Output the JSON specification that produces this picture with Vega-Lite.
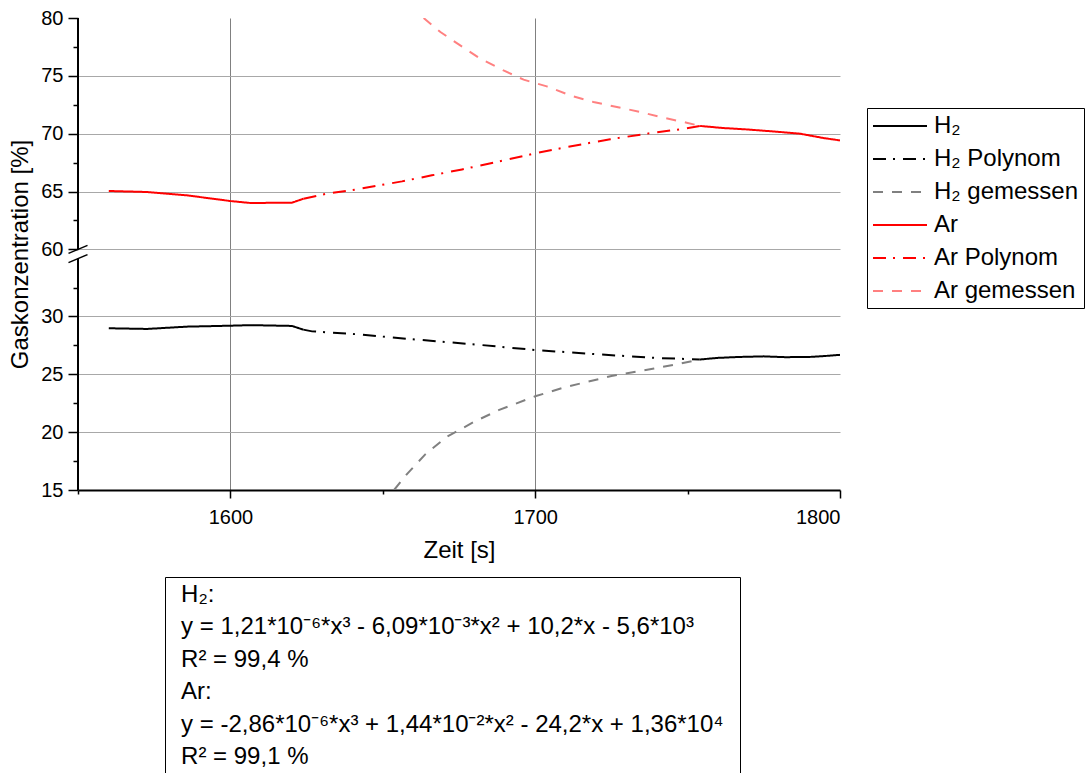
{
  "$schema": "https://vega.github.io/schema/vega-lite/v6.json",
  "padding": {"left": 8, "top": 8, "right": 0, "bottom": 0},
  "config": {
    "font": "Liberation Sans",
    "view": {"stroke": null},
    "axis": {"labelFont": "Liberation Sans", "titleFont": "Liberation Sans", "labelFontSize": 20, "titleFontSize": 24, "labelColor": "#000", "titleColor": "#000", "titleFontWeight": "normal", "domainColor": "#000", "tickColor": "#000"},
    "text": {"font": "Liberation Sans"}
  },
  "spacing": 14,
  "resolve": {"scale": {"color": "independent", "strokeDash": "independent"}},
  "vconcat": [
    {
      "width": 762,
      "height": 472,
      "layer": [
        {
          "data": {"values": [
            {"s": "H₂", "seg": "a", "t": 1560.1, "c": 28.98},
            {"s": "H₂", "seg": "a", "t": 1572.7, "c": 28.92},
            {"s": "H₂", "seg": "a", "t": 1585.8, "c": 29.12},
            {"s": "H₂", "seg": "a", "t": 1600, "c": 29.2},
            {"s": "H₂", "seg": "a", "t": 1606.6, "c": 29.25},
            {"s": "H₂", "seg": "a", "t": 1620.2, "c": 29.18},
            {"s": "H₂", "seg": "a", "t": 1623.9, "c": 28.86},
            {"s": "H₂", "seg": "b", "t": 1754, "c": 26.28},
            {"s": "H₂", "seg": "b", "t": 1760, "c": 26.42},
            {"s": "H₂", "seg": "b", "t": 1767, "c": 26.5},
            {"s": "H₂", "seg": "b", "t": 1775, "c": 26.55},
            {"s": "H₂", "seg": "b", "t": 1782, "c": 26.48},
            {"s": "H₂", "seg": "b", "t": 1790, "c": 26.5},
            {"s": "H₂", "seg": "b", "t": 1795, "c": 26.58},
            {"s": "H₂", "seg": "b", "t": 1800, "c": 26.68},
            {"s": "H₂ Polynom", "seg": "a", "t": 1623.9, "c": 28.86},
            {"s": "H₂ Polynom", "seg": "a", "t": 1626.8, "c": 28.71},
            {"s": "H₂ Polynom", "seg": "a", "t": 1639.7, "c": 28.5},
            {"s": "H₂ Polynom", "seg": "a", "t": 1659.6, "c": 28.03},
            {"s": "H₂ Polynom", "seg": "a", "t": 1679.5, "c": 27.6},
            {"s": "H₂ Polynom", "seg": "a", "t": 1700, "c": 27.1},
            {"s": "H₂ Polynom", "seg": "a", "t": 1719.3, "c": 26.75},
            {"s": "H₂ Polynom", "seg": "a", "t": 1739.2, "c": 26.42},
            {"s": "H₂ Polynom", "seg": "a", "t": 1754, "c": 26.28},
            {"s": "H₂ gemessen", "seg": "a", "t": 1653.7, "c": 15.0},
            {"s": "H₂ gemessen", "seg": "a", "t": 1658, "c": 16.4},
            {"s": "H₂ gemessen", "seg": "a", "t": 1664, "c": 18.1},
            {"s": "H₂ gemessen", "seg": "a", "t": 1671, "c": 19.6},
            {"s": "H₂ gemessen", "seg": "a", "t": 1680, "c": 20.9},
            {"s": "H₂ gemessen", "seg": "a", "t": 1688, "c": 21.9},
            {"s": "H₂ gemessen", "seg": "a", "t": 1700, "c": 23.1},
            {"s": "H₂ gemessen", "seg": "a", "t": 1710, "c": 23.9},
            {"s": "H₂ gemessen", "seg": "a", "t": 1725, "c": 24.85},
            {"s": "H₂ gemessen", "seg": "a", "t": 1739, "c": 25.5},
            {"s": "H₂ gemessen", "seg": "a", "t": 1748, "c": 25.95},
            {"s": "H₂ gemessen", "seg": "a", "t": 1754, "c": 26.28},
            {"s": "Ar", "seg": "a", "t": 1560.1, "c": 65.05},
            {"s": "Ar", "seg": "a", "t": 1572.7, "c": 64.96},
            {"s": "Ar", "seg": "a", "t": 1585.8, "c": 64.67},
            {"s": "Ar", "seg": "a", "t": 1600, "c": 64.18},
            {"s": "Ar", "seg": "a", "t": 1606.6, "c": 64.01},
            {"s": "Ar", "seg": "a", "t": 1620.2, "c": 64.04},
            {"s": "Ar", "seg": "a", "t": 1624, "c": 64.38},
            {"s": "Ar", "seg": "b", "t": 1754.1, "c": 70.67},
            {"s": "Ar", "seg": "b", "t": 1761.7, "c": 70.49},
            {"s": "Ar", "seg": "b", "t": 1769.4, "c": 70.37},
            {"s": "Ar", "seg": "b", "t": 1780.3, "c": 70.15},
            {"s": "Ar", "seg": "b", "t": 1786.9, "c": 70.0},
            {"s": "Ar", "seg": "b", "t": 1794.5, "c": 69.63},
            {"s": "Ar", "seg": "b", "t": 1800, "c": 69.42},
            {"s": "Ar Polynom", "seg": "a", "t": 1624, "c": 64.38},
            {"s": "Ar Polynom", "seg": "a", "t": 1631.7, "c": 64.82},
            {"s": "Ar Polynom", "seg": "a", "t": 1641.5, "c": 65.19},
            {"s": "Ar Polynom", "seg": "a", "t": 1656.3, "c": 65.88},
            {"s": "Ar Polynom", "seg": "a", "t": 1666.1, "c": 66.4},
            {"s": "Ar Polynom", "seg": "a", "t": 1676, "c": 66.91},
            {"s": "Ar Polynom", "seg": "a", "t": 1688, "c": 67.6},
            {"s": "Ar Polynom", "seg": "a", "t": 1700, "c": 68.3},
            {"s": "Ar Polynom", "seg": "a", "t": 1710.4, "c": 68.85},
            {"s": "Ar Polynom", "seg": "a", "t": 1724.6, "c": 69.52},
            {"s": "Ar Polynom", "seg": "a", "t": 1736.6, "c": 70.0},
            {"s": "Ar Polynom", "seg": "a", "t": 1747.5, "c": 70.38},
            {"s": "Ar Polynom", "seg": "a", "t": 1754.1, "c": 70.67},
            {"s": "Ar gemessen", "seg": "a", "t": 1663.4, "c": 80.0},
            {"s": "Ar gemessen", "seg": "a", "t": 1668.9, "c": 78.79},
            {"s": "Ar gemessen", "seg": "a", "t": 1675.4, "c": 77.63},
            {"s": "Ar gemessen", "seg": "a", "t": 1682, "c": 76.48},
            {"s": "Ar gemessen", "seg": "a", "t": 1689.6, "c": 75.47},
            {"s": "Ar gemessen", "seg": "a", "t": 1696.2, "c": 74.67},
            {"s": "Ar gemessen", "seg": "a", "t": 1703.8, "c": 74.09},
            {"s": "Ar gemessen", "seg": "a", "t": 1711.5, "c": 73.31},
            {"s": "Ar gemessen", "seg": "a", "t": 1719.1, "c": 72.74},
            {"s": "Ar gemessen", "seg": "a", "t": 1726.8, "c": 72.31},
            {"s": "Ar gemessen", "seg": "a", "t": 1734.4, "c": 71.88},
            {"s": "Ar gemessen", "seg": "a", "t": 1742.1, "c": 71.38},
            {"s": "Ar gemessen", "seg": "a", "t": 1749.7, "c": 70.95},
            {"s": "Ar gemessen", "seg": "a", "t": 1754.1, "c": 70.67}
          ]},
          "mark": {"type": "line", "strokeWidth": 2, "clip": true},
          "encoding": {
            "x": {"field": "t", "type": "quantitative",
              "scale": {"domain": [1550, 1800], "nice": false, "zero": false},
              "axis": {"orient": "bottom", "values": [1600, 1700, 1800], "format": "d", "title": "Zeit [s]", "tickSize": 8, "tickWidth": 1.5, "domainWidth": 2, "labelPadding": 9, "titlePadding": 11, "grid": true, "gridColor": "#808080", "gridWidth": 1, "gridOpacity": {"condition": {"test": "datum.value == 1800", "value": 0}, "value": 1}}},
            "y": {"field": "c", "type": "quantitative",
              "scale": {"domain": [15, 35, 60, 80], "range": [472, 240.6, 231.4, 0], "nice": false, "zero": false},
              "axis": {"orient": "left", "values": [15, 20, 25, 30, 60, 65, 70, 75, 80], "format": "d", "title": "Gaskonzentration [%]", "domain": false, "tickSize": 10, "tickWidth": 1.5, "labelPadding": 5, "titlePadding": 8, "grid": true, "gridColor": "#a8a8a8", "gridWidth": 1, "gridOpacity": {"condition": {"test": "datum.value == 80 || datum.value == 15", "value": 0}, "value": 1}}},
            "color": {"field": "s", "type": "nominal",
              "scale": {"domain": ["H₂", "H₂ Polynom", "H₂ gemessen", "Ar", "Ar Polynom", "Ar gemessen"], "range": ["#000000", "#000000", "#808080", "#ff0000", "#ff0000", "#ff8080"]},
              "legend": {"orient": "none", "legendX": 789, "legendY": 90, "title": null, "labelFontSize": 24, "labelFont": "Liberation Sans", "labelColor": "#000", "symbolType": "M-1,0L3.5,0", "symbolSize": 576, "symbolStrokeWidth": 2, "labelOffset": 36, "rowPadding": 8, "padding": 5, "strokeColor": "#000"}},
            "strokeDash": {"field": "s", "type": "nominal",
              "scale": {"domain": ["H₂", "H₂ Polynom", "H₂ gemessen", "Ar", "Ar Polynom", "Ar gemessen"], "range": [[1, 0], [13, 7, 2, 8], [10, 9], [1, 0], [13, 7, 2, 8], [10, 9]]},
              "legend": {"orient": "none", "legendX": 789, "legendY": 90, "title": null, "labelFontSize": 24, "labelFont": "Liberation Sans", "labelColor": "#000", "symbolType": "M-1,0L3.5,0", "symbolSize": 576, "symbolStrokeWidth": 2, "labelOffset": 36, "rowPadding": 8, "padding": 5, "strokeColor": "#000"}},
            "detail": {"field": "seg"}
          }
        },
        {
          "data": {"values": [{"b": 35}, {"b": 60}]},
          "mark": {"type": "point", "shape": "M-1,0.42L1,-0.42", "size": 361, "filled": false, "stroke": "#000", "strokeWidth": 1.5, "opacity": 1, "clip": false},
          "encoding": {
            "x": {"datum": 1550, "type": "quantitative",
              "axis": {"orient": "bottom", "values": [1550, 1650, 1750], "labels": false, "title": null, "tickSize": 4, "tickWidth": 1.5, "domain": false, "grid": false}},
            "y": {"field": "b", "type": "quantitative",
              "axis": {"orient": "left", "values": [17.5, 22.5, 27.5, 32.5, 62.5, 67.5, 72.5, 77.5], "labels": false, "title": null, "tickSize": 5, "tickWidth": 1.5, "domain": false, "grid": false}}
          }
        },
        {
          "data": {"values": [{"lo": 15, "hi": 35}, {"lo": 60, "hi": 80}]},
          "mark": {"type": "rule", "stroke": "#000", "strokeWidth": 2},
          "encoding": {
            "x": {"datum": 1550, "type": "quantitative", "axis": null},
            "y": {"field": "lo", "type": "quantitative", "axis": null},
            "y2": {"field": "hi"}
          }
        }
      ],
      "resolve": {"axis": {"x": "independent", "y": "independent"}}
    },
    {
      "spacing": 20,
      "hconcat": [
        {
          "width": 66, "height": 10,
          "data": {"values": [{}]},
          "mark": {"type": "text", "text": ""}
        },
        {
          "width": 575, "height": 198,
          "view": {"stroke": "#000", "strokeWidth": 1},
          "data": {"values": [
            {"n": 1, "txt": "H₂:"},
            {"n": 2, "txt": "y = 1,21*10⁻⁶*x³ - 6,09*10⁻³*x² + 10,2*x - 5,6*10³"},
            {"n": 3, "txt": "R² = 99,4 %"},
            {"n": 4, "txt": "Ar:"},
            {"n": 5, "txt": "y = -2,86*10⁻⁶*x³ + 1,44*10⁻²*x² - 24,2*x + 1,36*10⁴"},
            {"n": 6, "txt": "R² = 99,1 %"}
          ]},
          "mark": {"type": "text", "align": "left", "baseline": "middle", "fontSize": 24, "color": "#000"},
          "encoding": {
            "x": {"datum": 0, "type": "quantitative", "scale": {"domain": [-0.028, 0.972]}, "axis": null},
            "y": {"field": "n", "type": "ordinal", "axis": null, "scale": {"padding": 0.556}},
            "text": {"field": "txt"}
          }
        }
      ]
    }
  ]
}
